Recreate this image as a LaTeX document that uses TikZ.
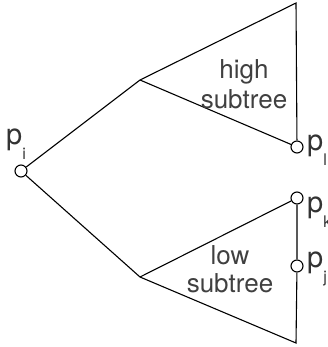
\documentclass[tikz,border=0pt]{standalone}
\usepackage{fontspec}
\setmainfont{TeX Gyre Heros}
\newcommand{\psub}[1]{p\raisebox{-15pt}{\fontsize{16}{16}\selectfont #1}}
\begin{document}
\begin{tikzpicture}[x=1pt,y=-1pt,
  ln/.style={line width=1.1pt, black},
  pnode/.style={circle, draw, line width=1.1pt, fill=white, inner sep=0pt, minimum size=12pt},
  lbl/.style={font=\fontsize{26}{28}\selectfont, text=black!75, inner sep=0pt},
  plbl/.style={font=\fontsize{29}{30}\selectfont, text=black!80, inner sep=0pt, anchor=base west}]
\useasboundingbox (0,0) rectangle (328,347);
\coordinate (ha) at (140,80);
\coordinate (ht) at (296,3);
\coordinate (la) at (140,277);
\coordinate (lb) at (296,343);
\node[pnode] (pi) at (21,171) {};
\node[pnode] (pl) at (297,147) {};
\node[pnode] (pk) at (297,198) {};
\node[pnode] (pj) at (297,266) {};
\draw[ln] (pi) -- (ha);
\draw[ln] (pi) -- (la);
\draw[ln] (ha) -- (ht) -- (pl) -- (ha);
\draw[ln] (la) -- (pk);
\draw[ln] (la) -- (lb) -- (pj) -- (pk);
\node[lbl] (hi) at (244,72) {high};
\node[lbl] (hs) at (244,99) {subtree};
\node[lbl] (lo) at (230,255) {low};
\node[lbl] (ls) at (230,283) {subtree};
\node[plbl] (tpi) at (6,145) {\psub{i}};
\node[plbl] (tpl) at (307,151) {\psub{l}};
\node[plbl] (tpk) at (307,212) {\psub{k}};
\node[plbl] (tpj) at (307,267) {\psub{j}};
\end{tikzpicture}
\end{document}
